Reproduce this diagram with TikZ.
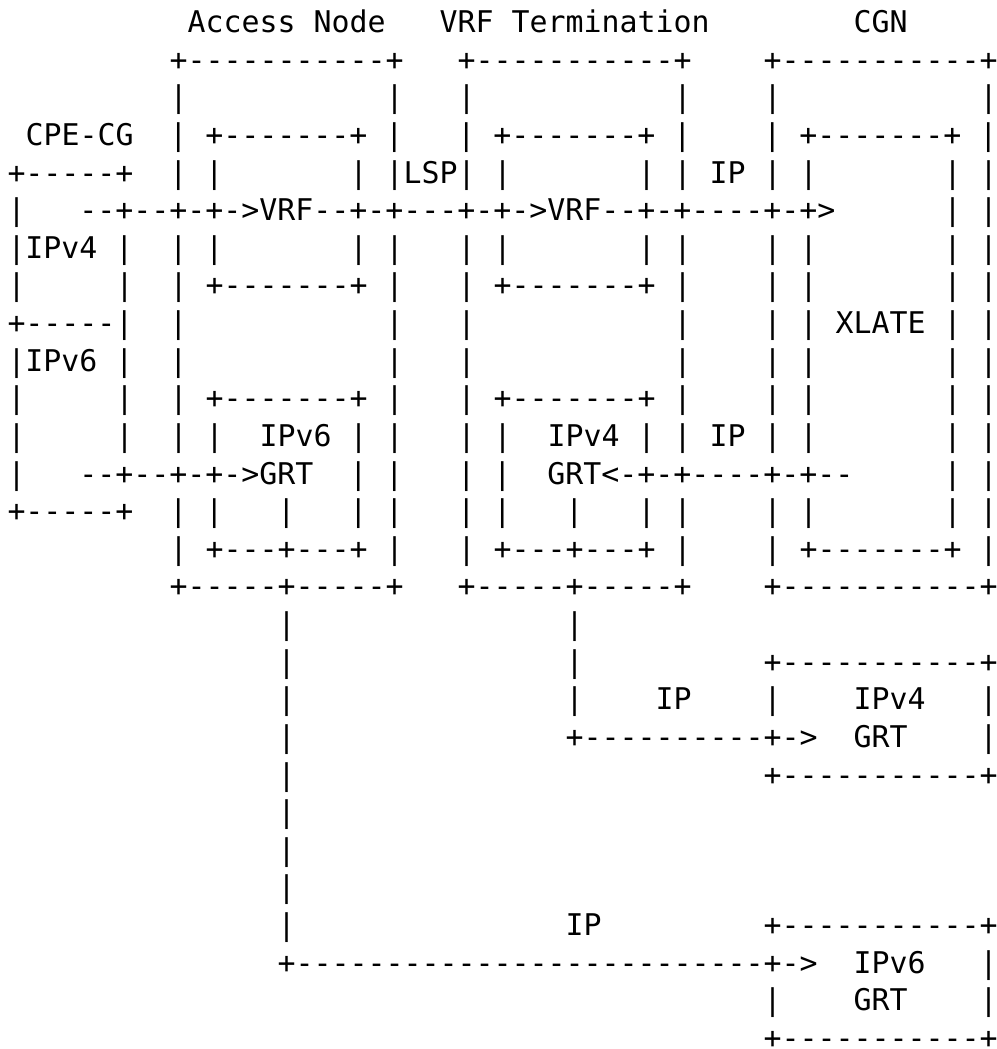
\documentclass[tikz,border=0pt]{standalone}
\usepackage{fontspec}
\setmonofont{DejaVu Sans Mono}
\makeatletter
\begingroup\lccode`\~=`\ \lowercase{\endgroup\gdef~{\ }}
\def\ascrow#1#2{\begingroup\catcode`\ =\active\ascrow@i{#1}{#2}}
\def\ascrow@i#1#2#3{\endgroup\node[arow] (#1) at (7.5,{-(32.6+37.62*#2)}) {#3};}
\makeatother
\tikzset{arow/.style={anchor=base west,inner sep=0pt,outer sep=0pt,text=black,
  font=\ttfamily\fontsize{29.9pt}{37.62pt}\selectfont}}
\begin{document}
\begin{tikzpicture}[x=1pt,y=1pt]
\fill[white] (0,0) rectangle (996,-1049);
\useasboundingbox (0,0) rectangle (996,-1049);
\ascrow{r0}{0}{          Access Node   VRF Termination        CGN}
\ascrow{r1}{1}{         +-----------+   +-----------+    +-----------+}
\ascrow{r2}{2}{         |           |   |           |    |           |}
\ascrow{r3}{3}{ CPE-CG  | +-------+ |   | +-------+ |    | +-------+ |}
\ascrow{r4}{4}{+-----+  | |       | |LSP| |       | | IP | |       | |}
\ascrow{r5}{5}{|   --+--+-+->VRF--+-+---+-+->VRF--+-+----+-+>      | |}
\ascrow{r6}{6}{|IPv4 |  | |       | |   | |       | |    | |       | |}
\ascrow{r7}{7}{|     |  | +-------+ |   | +-------+ |    | |       | |}
\ascrow{r8}{8}{+-----|  |           |   |           |    | | XLATE | |}
\ascrow{r9}{9}{|IPv6 |  |           |   |           |    | |       | |}
\ascrow{r10}{10}{|     |  | +-------+ |   | +-------+ |    | |       | |}
\ascrow{r11}{11}{|     |  | |  IPv6 | |   | |  IPv4 | | IP | |       | |}
\ascrow{r12}{12}{|   --+--+-+->GRT  | |   | |  GRT<-+-+----+-+--     | |}
\ascrow{r13}{13}{+-----+  | |   |   | |   | |   |   | |    | |       | |}
\ascrow{r14}{14}{         | +---+---+ |   | +---+---+ |    | +-------+ |}
\ascrow{r15}{15}{         +-----+-----+   +-----+-----+    +-----------+}
\ascrow{r16}{16}{               |               |}
\ascrow{r17}{17}{               |               |          +-----------+}
\ascrow{r18}{18}{               |               |    IP    |    IPv4   |}
\ascrow{r19}{19}{               |               +----------+->  GRT    |}
\ascrow{r20}{20}{               |                          +-----------+}
\ascrow{r21}{21}{               |}
\ascrow{r22}{22}{               |}
\ascrow{r23}{23}{               |}
\ascrow{r24}{24}{               |               IP         +-----------+}
\ascrow{r25}{25}{               +--------------------------+->  IPv6   |}
\ascrow{r26}{26}{                                          |    GRT    |}
\ascrow{r27}{27}{                                          +-----------+}
\end{tikzpicture}
\end{document}
